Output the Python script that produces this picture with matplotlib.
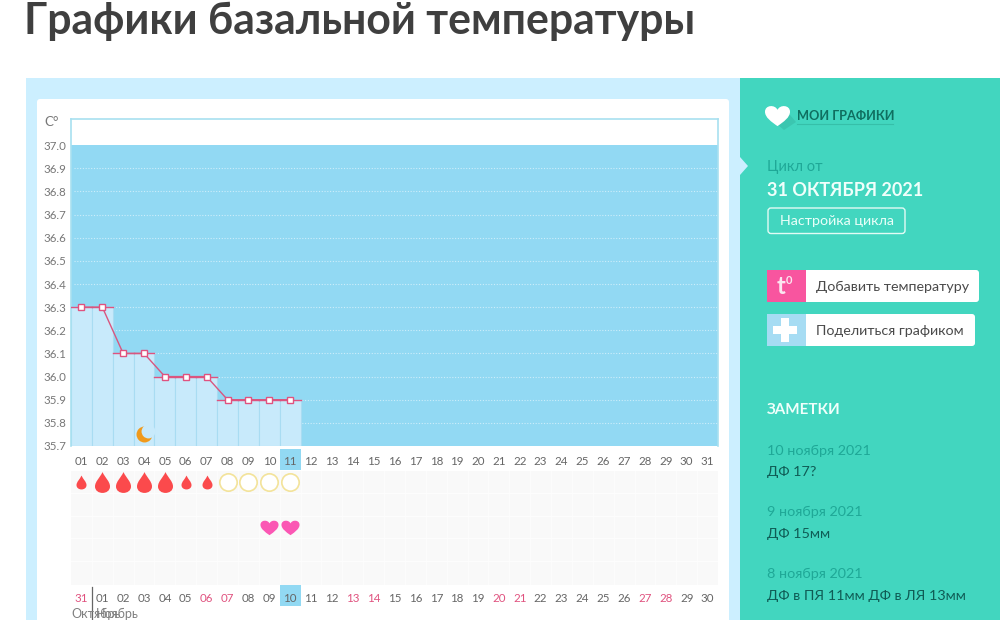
import matplotlib
matplotlib.use('Agg')
import matplotlib.pyplot as plt
from matplotlib.path import Path
from matplotlib.patches import Rectangle, FancyBboxPatch, Polygon

plt.rcParams['font.family'] = ['Lato', 'DejaVu Sans']

# chart values
days = list(range(1, 32))
temp_days = [1, 2, 3, 4, 5, 6, 7, 8, 9, 10, 11]
temps = [36.3, 36.3, 36.1, 36.1, 36.0, 36.0, 36.0, 35.9, 35.9, 35.9, 35.9]
y_ticks = [35.7, 35.8, 35.9, 36.0, 36.1, 36.2, 36.3, 36.4, 36.5, 36.6, 36.7, 36.8, 36.9, 37.0]
cycle_labels = ['%02d' % d for d in days]
date_labels = ['31'] + ['%02d' % d for d in range(1, 31)]
weekend_labels = [0, 6, 7, 13, 14, 20, 21, 27, 28]
moon_day = 4
big_drops = [2, 3, 4, 5]
small_drops = [1, 6, 7]
circle_days = [8, 9, 10, 11]
heart_days = [10, 11]
today = 11

notes_dates = ['10 ноября 2021', '9 ноября 2021', '8 ноября 2021']
notes_text = ['ДФ 17?', 'ДФ 15мм', 'ДФ в ПЯ 11мм ДФ в ЛЯ 13мм']

TEAL = '#42d6bf'
PALE = '#ccefff'
SKY = '#92d9f3'
BAR = '#c8eafb'

# marker shapes
drop = Path([(0, 1), (0.25, 0.45), (0.72, 0.1), (0.72, -0.38), (0.72, -0.8), (0.35, -1), (0, -1),
             (-0.35, -1), (-0.72, -0.8), (-0.72, -0.38), (-0.72, 0.1), (-0.25, 0.45), (0, 1), (0, 1)],
            [Path.MOVETO, Path.CURVE4, Path.CURVE4, Path.CURVE4, Path.CURVE4, Path.CURVE4, Path.CURVE4,
             Path.CURVE4, Path.CURVE4, Path.CURVE4, Path.CURVE4, Path.CURVE4, Path.CURVE4, Path.CLOSEPOLY])
heart = Path([(0, -0.85), (-0.5, -0.5), (-1, -0.15), (-1, 0.3), (-1, 0.85), (-0.2, 0.9), (0, 0.45),
              (0.2, 0.9), (1, 0.85), (1, 0.3), (1, -0.15), (0.5, -0.5), (0, -0.85), (0, -0.85)],
             [Path.MOVETO, Path.CURVE4, Path.CURVE4, Path.CURVE4, Path.CURVE4, Path.CURVE4, Path.CURVE4,
              Path.CURVE4, Path.CURVE4, Path.CURVE4, Path.CURVE4, Path.CURVE4, Path.CURVE4, Path.CLOSEPOLY])

fig = plt.figure(figsize=(10, 6.2), dpi=100, facecolor='white')

# page in pixel coordinates
page = fig.add_axes([0, 0, 1, 1], zorder=0)
page.set_xlim(0, 1000)
page.set_ylim(620, 0)
page.axis('off')

page.text(24, 21, 'Графики базальной температуры', fontsize=30.8, fontweight='bold',
          color='#3f3f3f', va='center', ha='left')
page.add_patch(Rectangle((26, 78), 714, 542, color=PALE, lw=0))
page.add_patch(FancyBboxPatch((39, 101), 688, 525, boxstyle='round,pad=2,rounding_size=3', fc='white', ec='none'))
page.add_patch(Rectangle((740, 78), 260, 542, color=TEAL, lw=0))
page.add_patch(Polygon([(740, 157), (748, 166), (740, 175)], color=PALE, lw=0))
page.text(44, 122, 'C°', fontsize=9.5, color='#777777', va='center')

# sidebar
page.add_patch(Polygon([(770, 118), (784, 108), (796, 122), (784, 130)], color='#3bc6b0', lw=0))
page.plot([777], [115], marker=heart, ms=18, color='white', mew=0)
page.text(797, 115.5, 'МОИ ГРАФИКИ', fontsize=9.2, fontweight='bold', color='#0f6f60', va='center')
page.plot([797, 893], [123.5, 123.5], color='#36bfa9', lw=0.8)
page.text(767, 167, 'Цикл от', fontsize=10.5, color='#1fa897', va='center')
page.text(767, 190.5, '31 ОКТЯБРЯ 2021', fontsize=13, fontweight='bold', color='#f0fffb', va='center')
page.add_patch(FancyBboxPatch((768, 208), 137, 25.5, boxstyle='round,pad=0,rounding_size=3', fc='none', ec='#e2fbf5', lw=1))
page.text(836.5, 221, 'Настройка цикла', fontsize=10.3, color='#eafff9', va='center', ha='center')

page.add_patch(FancyBboxPatch((767, 270), 212, 32, boxstyle='round,pad=0,rounding_size=3', fc='white', ec='none'))
page.add_patch(Rectangle((767, 270), 39, 32, color='#f8559f', lw=0))
page.text(785, 287, 't', fontsize=17, fontweight='bold', color='#fbe6f0', ha='right', va='center')
page.text(786, 281, '0', fontsize=8, fontweight='bold', color='#fbe6f0', ha='left', va='center')
page.text(816, 287, 'Добавить температуру', fontsize=10.3, color='#4a4a4a', va='center')
page.add_patch(FancyBboxPatch((767, 314), 208, 32, boxstyle='round,pad=0,rounding_size=3', fc='white', ec='none'))
page.add_patch(Rectangle((767, 314), 39, 32, color='#a6dcf3', lw=0))
page.plot([785], [330], marker='P', ms=17, color='white', mew=0)
page.text(816, 331, 'Поделиться графиком', fontsize=10.3, color='#4a4a4a', va='center')

page.text(767, 410.5, 'ЗАМЕТКИ', fontsize=10.9, fontweight='bold', color='#f0fffb', va='center')
for i in range(len(notes_dates)):
    page.text(767, 450.5 + i * 61.5, notes_dates[i], fontsize=10.4, color='#1fa897', va='center')
    page.text(767, 472.5 + i * 61.5, notes_text[i], fontsize=10.4, color='#0f5c55', va='center')

# highlighted day cells sit under the tick labels
cell = 647 / 31
page.add_patch(Rectangle((71 + cell * (today - 1), 449), cell, 21, color=SKY, lw=0))
page.add_patch(Rectangle((71 + cell * (today - 1), 585), cell, 21, color=SKY, lw=0))
page.plot([92, 92], [587, 620], color='#666666', lw=0.9)
page.text(71, 613.5, 'Октябрь', fontsize=9, color='#808080', va='center')
page.text(96, 613.5, 'Ноябрь', fontsize=9, color='#808080', va='center')

# temperature chart
ax = fig.add_axes([71 / 1000, (620 - 446) / 620, 647 / 1000, 327 / 620], zorder=1)
ax.set_xlim(0.5, 31.5)
ax.set_ylim(35.7, 37.113)
ax.axhspan(35.7, 37.0, color=SKY, lw=0, zorder=0)
for t in y_ticks[1:-1]:
    ax.plot([0.65, 31.5], [t, t], color='#cdeefb', lw=0.8, ls=(0, (1, 1.5)), zorder=1)
ax.bar(temp_days, [t - 35.7 for t in temps], bottom=35.7, width=1, color=BAR,
       edgecolor='#a9dcf2', linewidth=0.8, zorder=2)
for d, t in zip(temp_days, temps):
    ax.plot([d - 0.5, d + 0.5], [t, t], color='#e0527f', lw=1, zorder=3)
ax.plot(temp_days, temps, color='#d9567f', lw=1, marker='s', ms=4, mfc='white',
        mec='#e0527f', mew=1, zorder=4)
ax.plot([moon_day], [35.75], marker='o', ms=11.5, color='#f09a1c', mew=0, zorder=5)
ax.plot([moon_day + 0.17], [35.765], marker='o', ms=10, color=BAR, mew=0, zorder=6)

ax.set_xticks(days)
ax.set_xticklabels(cycle_labels, fontsize=8.3, color='#666666')
ax.set_yticks(y_ticks)
ax.set_yticklabels(['%.1f' % t for t in y_ticks], fontsize=8.3, color='#777777', ha='left')
ax.tick_params(axis='x', length=0, pad=7)
ax.tick_params(axis='y', length=0, pad=20)
ax.spines['bottom'].set_visible(False)
for name in ['top', 'right', 'left']:
    ax.spines[name].set_color('#a8e0f0')
    ax.spines[name].set_linewidth(1.2)

# symptoms grid
ax2 = fig.add_axes([71 / 1000, (620 - 585) / 620, 647 / 1000, 114.5 / 620], zorder=1)
ax2.set_xlim(0.5, 31.5)
ax2.set_ylim(4.58, -0.5)
ax2.set_facecolor('#f9f9f9')
for d in days[:-1]:
    ax2.axvline(d + 0.5, color='#fdfdfd', lw=0.6, zorder=1)
for r in range(1, 5):
    ax2.axhline(r - 0.5, color='#fdfdfd', lw=0.8, zorder=1)
ax2.plot(big_drops, [0] * len(big_drops), ls='none', marker=drop, ms=15, color='#fb4a4c', mew=0, zorder=2)
ax2.plot(small_drops, [0] * len(small_drops), ls='none', marker=drop, ms=10, color='#fb4a4c', mew=0, zorder=2)
ax2.plot(circle_days, [0] * len(circle_days), ls='none', marker='o', ms=12.5, mfc='white', mec='#f3e39a',
         mew=1.2, zorder=2)
ax2.plot(heart_days, [2] * len(heart_days), ls='none', marker=heart, ms=13, color='#fb57b4', mew=0, zorder=2)
ax2.set_xticks(days)
ax2.set_xticklabels(date_labels, fontsize=8.3, color='#666666')
for i, lab in enumerate(ax2.get_xticklabels()):
    if i in weekend_labels:
        lab.set_color('#e0527f')
ax2.set_yticks([])
ax2.tick_params(axis='x', length=0, pad=5.5)
for name in ax2.spines:
    ax2.spines[name].set_visible(False)

fig.savefig('out.png', dpi=100)
